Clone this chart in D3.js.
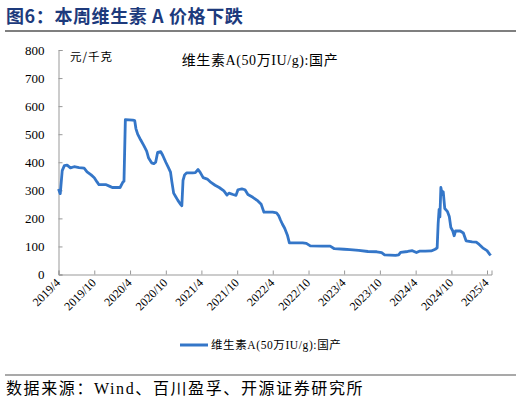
<!DOCTYPE html>
<html>
<head>
<meta charset="utf-8">
<script src="https://cdn.jsdelivr.net/npm/d3@7/dist/d3.min.js"></script>
<style>
  body { margin: 0; background: #fff; }
  svg { display: block; }
</style>
</head>
<body>
<div id="chart"></div>
<script>
// 维生素A(50万IU/g):国产 price, 元/千克
const dates = [
  '2019-04-01','2019-04-10','2019-04-20','2019-05-01','2019-05-15','2019-06-01','2019-06-20',
  '2019-07-15','2019-08-10','2019-08-25','2019-09-15','2019-10-01','2019-10-15','2019-10-25',
  '2019-12-01','2019-12-20','2020-01-01','2020-02-10','2020-02-25','2020-03-01','2020-03-08',
  '2020-04-15','2020-04-25','2020-05-01','2020-05-10','2020-05-25','2020-06-10','2020-06-25',
  '2020-07-05','2020-07-20','2020-08-01','2020-08-10','2020-08-20','2020-09-05','2020-09-15',
  '2020-10-01','2020-10-15','2020-10-25','2020-11-01','2020-11-10','2020-11-20','2020-12-01',
  '2020-12-15','2020-12-22','2020-12-28','2021-01-05','2021-01-15','2021-02-15','2021-03-01',
  '2021-03-15','2021-03-25','2021-04-10','2021-05-01','2021-05-20','2021-06-10','2021-07-01',
  '2021-07-25','2021-08-10','2021-08-20','2021-09-10','2021-09-25','2021-10-05','2021-10-25',
  '2021-11-10','2021-11-25','2021-12-20','2022-01-15','2022-02-01','2022-02-15','2022-04-01',
  '2022-04-20','2022-05-01','2022-05-10','2022-05-20','2022-06-01','2022-06-15','2022-06-25',
  '2022-09-01','2022-09-20','2022-10-10','2022-12-10','2023-01-20','2023-02-10','2023-04-01',
  '2023-05-01','2023-06-15','2023-08-01','2023-09-15','2023-10-10','2023-10-25','2023-12-20',
  '2024-01-05','2024-01-15','2024-02-20','2024-03-15','2024-04-05','2024-04-20','2024-05-20',
  '2024-06-20','2024-07-10','2024-07-20','2024-07-25','2024-07-30','2024-08-03','2024-08-08',
  '2024-08-15','2024-08-20','2024-08-28','2024-09-10','2024-09-20','2024-09-28','2024-10-08',
  '2024-10-15','2024-10-22','2024-11-15','2024-12-01','2024-12-15','2025-01-15','2025-02-05',
  '2025-02-20','2025-03-10','2025-04-01','2025-04-15','2025-04-20'
];
const prices = [
  305, 288, 370, 388, 390, 380, 384,
  381, 379, 366, 355, 345, 330, 320,
  320, 314, 310, 310, 330, 332, 552,
  550, 548, 520, 500, 480, 460, 440,
  415, 398, 395, 400, 435, 438, 425,
  400, 380, 365, 330, 290, 278, 265,
  250, 245, 335, 355, 362, 362, 363,
  374, 365, 345, 340, 328, 318, 310,
  298, 283, 290, 285, 282, 302, 305,
  302, 285, 275, 262, 250, 222, 222,
  220, 210, 195, 180, 165, 140, 113,
  113, 111, 102, 101, 101, 92, 90,
  89, 86, 82, 81, 78, 70, 68,
  70, 79, 82, 85, 78, 83, 83,
  84, 90, 95, 180, 232, 205, 310,
  285, 295, 235, 225, 207, 168, 155,
  138, 155, 155, 148, 120, 116, 115,
  107, 95, 85, 72, 68
];
const yTicks = [0, 100, 200, 300, 400, 500, 600, 700, 800];
const xTickDates = ['2019-04-01','2019-10-01','2020-04-01','2020-10-01','2021-04-01','2021-10-01',
  '2022-04-01','2022-10-01','2023-04-01','2023-10-01','2024-04-01','2024-10-01','2025-04-01'];
const seriesName = '维生素A(50万IU/g):国产';

const W = 521, H = 405;
const parse = d3.timeParse('%Y-%m-%d');
const data = dates.map((d, i) => ({ date: parse(d), value: prices[i] }));

const svg = d3.select('#chart').append('svg')
  .attr('width', W).attr('height', H);

const serif = '"Liberation Serif", "Times New Roman", "Noto Sans CJK SC", serif';
const cjk = '"Noto Sans CJK SC", sans-serif';

// Header
svg.append('text')
  .attr('x', 6).attr('y', 23)
  .attr('fill', '#1d3a7c')
  .style('font-family', cjk)
  .style('font-weight', 'bold')
  .style('font-size', '18px')
  .style('letter-spacing', '0.6px')
  .text('图6：本周维生素 A 价格下跌');

svg.append('line')
  .attr('x1', 5).attr('x2', 516).attr('y1', 31).attr('y2', 31)
  .attr('stroke', '#555').attr('stroke-width', 1.5);

// Scales
const x = d3.scaleTime()
  .domain([parse('2019-04-01'), parse('2025-04-24')])
  .range([58.5, 491.5]);
const y = d3.scaleLinear().domain([0, 800]).range([274.5, 50]);

// Y axis
const yAxis = svg.append('g')
  .attr('transform', `translate(${x.range()[0]},0)`)
  .call(d3.axisLeft(y).tickValues(yTicks).tickSize(-4).tickPadding(14));
yAxis.select('.domain').attr('stroke', '#999');
yAxis.selectAll('.tick line').attr('stroke', '#999');
yAxis.selectAll('.tick text')
  .style('font-family', serif).style('font-size', '13px').attr('fill', '#000');

// X axis
const xAxis = svg.append('g')
  .attr('transform', `translate(0,${y(0)})`)
  .call(d3.axisBottom(x).tickValues(xTickDates.map(parse)).tickSize(-4)
    .tickFormat(d => `${d.getFullYear()}/${d.getMonth() + 1}`));
xAxis.select('.domain').attr('stroke', '#999');
xAxis.selectAll('.tick line').attr('stroke', '#999');
xAxis.selectAll('.tick text')
  .style('font-family', serif).style('font-size', '12px').attr('fill', '#000')
  .attr('text-anchor', 'end')
  .attr('dy', 0).attr('y', 0).attr('x', 0)
  .attr('transform', 'translate(2,9) rotate(-45)');

// Unit and inner title
svg.append('text')
  .attr('x', 70).attr('y', 61)
  .style('font-family', cjk).style('font-size', '11.5px')
  .style('letter-spacing', '1px')
  .text('元/千克');

svg.append('text')
  .attr('x', 260).attr('y', 65)
  .attr('text-anchor', 'middle')
  .style('font-family', serif).style('font-size', '14px')
  .style('letter-spacing', '0.6px')
  .text(seriesName);

// Line
const line = d3.line()
  .x(d => x(d.date))
  .y(d => y(d.value))
  .curve(d3.curveLinear);

svg.append('path')
  .datum(data)
  .attr('fill', 'none')
  .attr('stroke', '#3476c8')
  .attr('stroke-width', 2.8)
  .attr('stroke-linejoin', 'round')
  .attr('d', line);

// Legend
svg.append('line')
  .attr('x1', 180).attr('x2', 208).attr('y1', 345).attr('y2', 345)
  .attr('stroke', '#3476c8').attr('stroke-width', 3);
svg.append('text')
  .attr('x', 211).attr('y', 349)
  .style('font-family', serif).style('font-size', '11.5px')
  .style('letter-spacing', '0.6px')
  .text(seriesName);

// Footer
svg.append('line')
  .attr('x1', 5).attr('x2', 516).attr('y1', 375).attr('y2', 375)
  .attr('stroke', '#555').attr('stroke-width', 1.2);
svg.append('text')
  .attr('x', 6).attr('y', 394)
  .style('font-family', serif).style('font-size', '16px')
  .style('letter-spacing', '1.6px')
  .text('数据来源：Wind、百川盈孚、开源证券研究所');
</script>
</body>
</html>
